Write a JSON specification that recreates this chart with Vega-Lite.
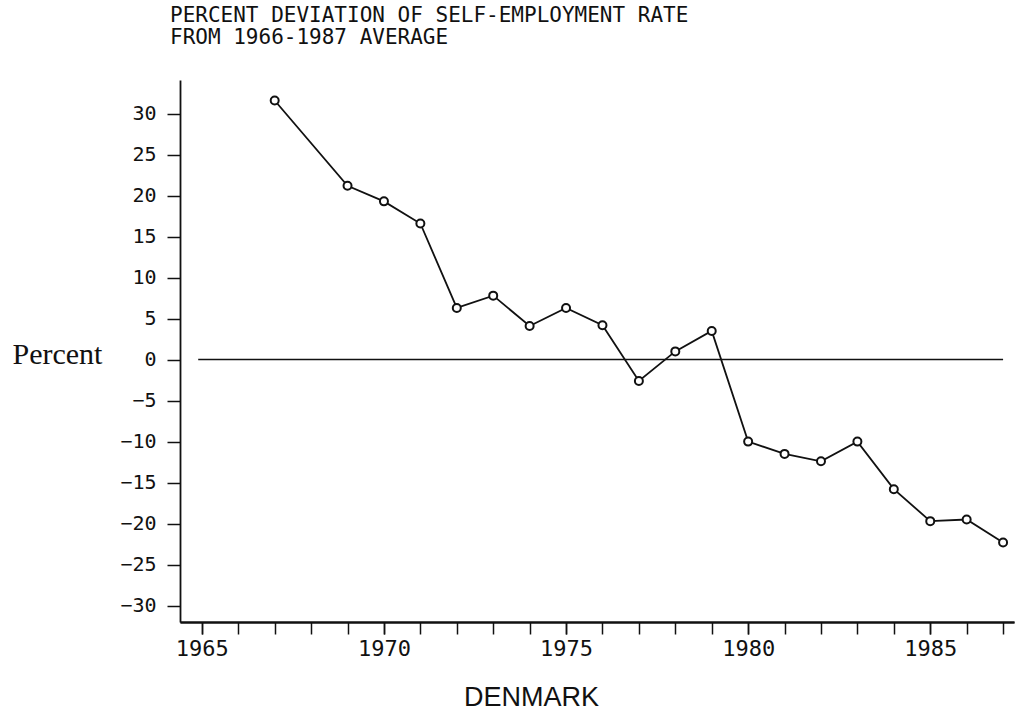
{
  "$schema": "https://vega.github.io/schema/vega-lite/v6.json",
  "autosize": "none",
  "padding": {"left": 180, "top": 80, "right": 1, "bottom": 96},
  "width": 834,
  "height": 542,
  "background": "white",
  "config": {
    "view": {"stroke": null},
    "axis": {"grid": false, "domainColor": "#111", "tickColor": "#111", "labelColor": "#111", "titleColor": "#111", "domainWidth": 1.8, "tickWidth": 1.5}
  },
  "title": {
    "text": ["PERCENT DEVIATION OF SELF-EMPLOYMENT RATE", "FROM 1966-1987 AVERAGE"],
    "anchor": "start",
    "frame": "group",
    "dx": -10,
    "offset": 32,
    "font": "DejaVu Sans Mono",
    "fontSize": 21,
    "fontWeight": "normal",
    "lineHeight": 22,
    "color": "#111"
  },
  "resolve": {"axis": {"x": "independent"}},
  "datasets": {
    "series": [
      {"year": 1967, "pct": 31.6},
      {"year": 1969, "pct": 21.2},
      {"year": 1970, "pct": 19.3},
      {"year": 1971, "pct": 16.6},
      {"year": 1972, "pct": 6.3},
      {"year": 1973, "pct": 7.8},
      {"year": 1974, "pct": 4.1},
      {"year": 1975, "pct": 6.3},
      {"year": 1976, "pct": 4.2},
      {"year": 1977, "pct": -2.6},
      {"year": 1978, "pct": 1.0},
      {"year": 1979, "pct": 3.5},
      {"year": 1980, "pct": -10.0},
      {"year": 1981, "pct": -11.5},
      {"year": 1982, "pct": -12.4},
      {"year": 1983, "pct": -10.0},
      {"year": 1984, "pct": -15.8},
      {"year": 1985, "pct": -19.7},
      {"year": 1986, "pct": -19.5},
      {"year": 1987, "pct": -22.3}
    ],
    "zero": [{"start": 1964.9, "end": 1987, "value": 0}]
  },
  "layer": [
    {
      "data": {"name": "series"},
      "mark": {"type": "line", "color": "#111", "strokeWidth": 1.8},
      "encoding": {
        "x": {
          "field": "year", "type": "quantitative",
          "scale": {"domain": [1964.4, 1987.3], "nice": false, "zero": false},
          "axis": {
            "orient": "bottom",
            "values": [1965, 1970, 1975, 1980, 1985],
            "format": "d",
            "labelOverlap": false,
            "labelFlush": false,
            "tickSize": 12,
            "labelPadding": 4,
            "labelFont": "DejaVu Sans Mono",
            "labelFontSize": 22,
            "labelBaseline": "top",
            "title": "DENMARK",
            "titleFont": "Liberation Sans",
            "titleFontSize": 27,
            "titleFontWeight": "normal",
            "titleX": 351,
            "titleY": 83,
            "titleBaseline": "alphabetic",
            "titleAlign": "center"
          }
        },
        "y": {
          "field": "pct", "type": "quantitative",
          "scale": {"domain": [-32, 34.1], "nice": false, "zero": false},
          "axis": {
            "values": [-30, -25, -20, -15, -10, -5, 0, 5, 10, 15, 20, 25, 30],
            "labelOverlap": false,
            "tickSize": 13,
            "labelPadding": 11,
            "labelFont": "DejaVu Sans Mono",
            "labelFontSize": 20,
            "title": "Percent",
            "titleFont": "Liberation Serif",
            "titleFontSize": 30,
            "titleFontWeight": "normal",
            "titleAngle": 0,
            "titleAlign": "left",
            "titleBaseline": "alphabetic",
            "titleX": -168,
            "titleY": 283
          }
        }
      }
    },
    {
      "data": {"name": "zero"},
      "mark": {"type": "rule", "color": "#111", "strokeWidth": 1.5},
      "encoding": {
        "x": {
          "field": "start", "type": "quantitative",
          "axis": {
            "orient": "bottom",
            "values": [1965, 1966, 1967, 1968, 1969, 1970, 1971, 1972, 1973, 1974, 1975, 1976, 1977, 1978, 1979, 1980, 1981, 1982, 1983, 1984, 1985, 1986, 1987],
            "labels": false,
            "title": null,
            "tickSize": 12
          }
        },
        "x2": {"field": "end"},
        "y": {"field": "value", "type": "quantitative"}
      }
    },
    {
      "data": {"name": "series"},
      "mark": {"type": "point", "shape": "circle", "filled": true, "fill": "white", "stroke": "#111", "strokeWidth": 2, "size": 64, "opacity": 1},
      "encoding": {
        "x": {"field": "year", "type": "quantitative", "axis": null},
        "y": {"field": "pct", "type": "quantitative"}
      }
    }
  ]
}
